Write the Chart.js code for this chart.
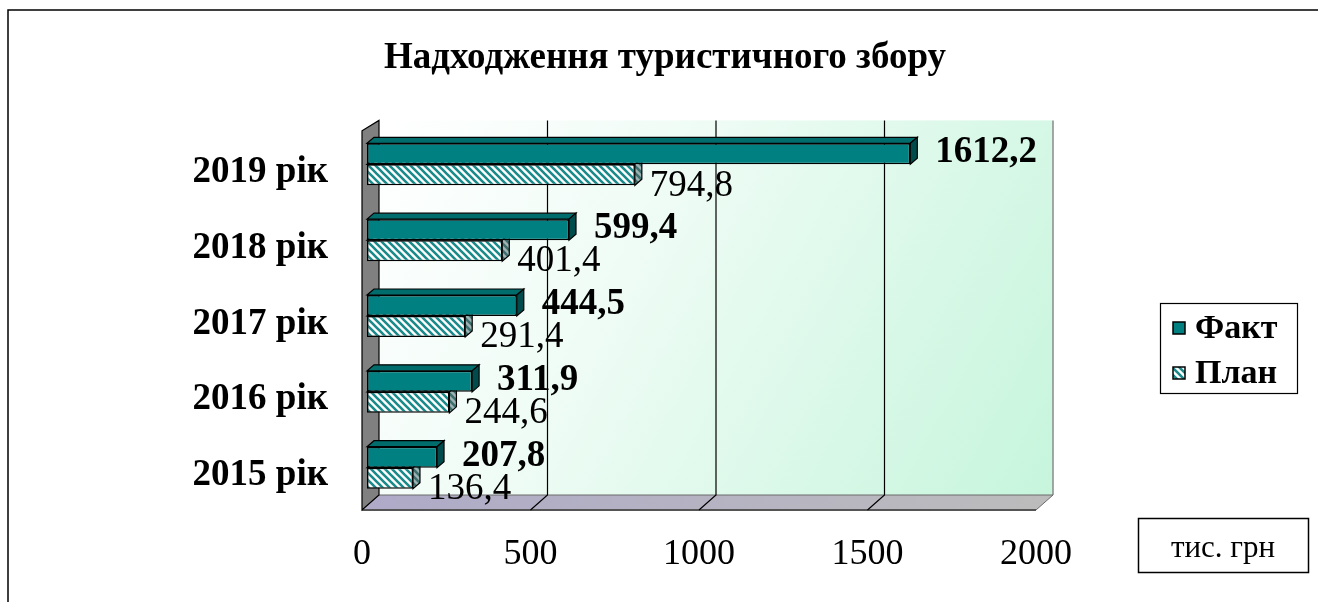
<!DOCTYPE html>
<html>
  <head>
    <title>Надходження туристичного збору</title>
    <style>
      body {
        background-color: white;
        margin: 0;
        padding: 0;
      }
      .chart-box {
        width: 1318px;
        height: 602px;
      }
    </style>
    <script src="https://cdn.jsdelivr.net/npm/chart.js"></script>
  </head>
  <body>
    <div class="chart-box">
      <canvas id="taxChart" width="1318" height="602"></canvas>
    </div>
    <script>
      // data (тис. грн)
      const years = ["2015 рік", "2016 рік", "2017 рік", "2018 рік", "2019 рік"];
      const factValues = [207.8, 311.9, 444.5, 599.4, 1612.2];
      const planValues = [136.4, 244.6, 291.4, 401.4, 794.8];
      const seriesNames = ["Факт", "План"];
      const xMin = 0;
      const xMax = 2000;
      const xStep = 500;

      const serif = "'Liberation Serif', 'Times New Roman', serif";
      const teal = "#008080";

      // diagonal hatch for the plan bars
      function makeHatch(bg, fg) {
        const c = document.createElement("canvas");
        c.width = 7;
        c.height = 7;
        const g = c.getContext("2d");
        g.fillStyle = bg;
        g.fillRect(0, 0, 7, 7);
        g.strokeStyle = fg;
        g.lineWidth = 2.6;
        g.beginPath();
        for (let k = -1; k <= 1; k++) {
          g.moveTo(k * 7 - 1, -1);
          g.lineTo(k * 7 + 8, 8);
        }
        g.stroke();
        return g.createPattern(c, "repeat");
      }
      const planHatch = makeHatch("#ffffff", "#1a8a8a");
      const planSideHatch = makeHatch("#9fb3b3", "#3d6f6f");

      const fmt = v => v.toFixed(1).replace(".", ",");

      // offsets of the 3D planes relative to the bar plane
      const BACK = { dx: 12, top: -6, bottom: -10.6 };
      const FRONT = { dx: -5, top: 4.4, bottom: 4.4 };
      const BAR = { dx: 7, dy: 6 };

      const box3d = {
        id: "box3d",
        beforeDraw(chart) {
          const ctx = chart.ctx;
          const a = chart.chartArea;
          const xs = chart.scales.x;
          ctx.save();

          // outer frame
          ctx.strokeStyle = "#000";
          ctx.lineWidth = 1.5;
          ctx.beginPath();
          ctx.moveTo(8, 602);
          ctx.lineTo(8, 10);
          ctx.lineTo(1318, 10);
          ctx.stroke();

          const bl = a.left + BACK.dx, br = a.right + BACK.dx;
          const bt = a.top + BACK.top, bb = a.bottom + BACK.bottom;
          const fl = a.left + FRONT.dx, fr = a.right + FRONT.dx;
          const ft = a.top + FRONT.top, fb = a.bottom + FRONT.bottom;

          // back wall
          const grad = ctx.createLinearGradient(bl, bt, br, bb);
          grad.addColorStop(0, "#ffffff");
          grad.addColorStop(0.35, "#f0fcf6");
          grad.addColorStop(1, "#c6f5dc");
          ctx.fillStyle = grad;
          ctx.fillRect(bl, bt, br - bl, bb - bt);
          ctx.strokeStyle = "#8a8a8a";
          ctx.lineWidth = 1.5;
          ctx.beginPath();
          ctx.moveTo(br, bt);
          ctx.lineTo(br, bb);
          ctx.stroke();

          // floor
          const fgrad = ctx.createLinearGradient(fl, 0, br, 0);
          fgrad.addColorStop(0, "#aeaac8");
          fgrad.addColorStop(1, "#bcbcbc");
          ctx.fillStyle = fgrad;
          ctx.beginPath();
          ctx.moveTo(fl, fb);
          ctx.lineTo(fr, fb);
          ctx.lineTo(br, bb);
          ctx.lineTo(bl, bb);
          ctx.closePath();
          ctx.fill();
          ctx.strokeStyle = "#6a6a6a";
          ctx.lineWidth = 1;
          ctx.stroke();
          ctx.strokeStyle = "#555";
          ctx.lineWidth = 2;
          ctx.beginPath();
          ctx.moveTo(fl, fb);
          ctx.lineTo(fr, fb);
          ctx.stroke();

          // grid lines on wall and floor
          ctx.strokeStyle = "#000";
          ctx.lineWidth = 1.2;
          for (let v = xMin + xStep; v < xMax; v += xStep) {
            const px = xs.getPixelForValue(v);
            ctx.beginPath();
            ctx.moveTo(px + BACK.dx, bt);
            ctx.lineTo(px + BACK.dx, bb);
            ctx.lineTo(px + FRONT.dx, fb);
            ctx.stroke();
          }

          // left wall
          ctx.fillStyle = "#808080";
          ctx.strokeStyle = "#000";
          ctx.lineWidth = 1.2;
          ctx.beginPath();
          ctx.moveTo(fl, fb);
          ctx.lineTo(fl, ft);
          ctx.lineTo(bl, bt);
          ctx.lineTo(bl, bb);
          ctx.closePath();
          ctx.fill();
          ctx.stroke();

          ctx.restore();
        },
        beforeDatasetsDraw(chart) {
          const ctx = chart.ctx;
          ctx.save();
          ctx.strokeStyle = "#000";
          ctx.lineWidth = 1.2;
          [1, 0].forEach(di => {
            const meta = chart.getDatasetMeta(di);
            meta.data.forEach(bar => {
              const p = bar.getProps(["x", "y", "base", "height"], true);
              const top = p.y - p.height / 2;
              const bottom = p.y + p.height / 2;
              // top face
              ctx.fillStyle = di === 0 ? "#006c6c" : planHatch;
              ctx.beginPath();
              ctx.moveTo(p.base, top);
              ctx.lineTo(p.base + BAR.dx, top - BAR.dy);
              ctx.lineTo(p.x + BAR.dx, top - BAR.dy);
              ctx.lineTo(p.x, top);
              ctx.closePath();
              ctx.fill();
              ctx.stroke();
              // end face
              ctx.fillStyle = di === 0 ? "#004c4c" : planSideHatch;
              ctx.beginPath();
              ctx.moveTo(p.x, top);
              ctx.lineTo(p.x + BAR.dx, top - BAR.dy);
              ctx.lineTo(p.x + BAR.dx, bottom - BAR.dy);
              ctx.lineTo(p.x, bottom);
              ctx.closePath();
              ctx.fill();
              ctx.stroke();
            });
          });
          ctx.restore();
        },
        afterDatasetsDraw(chart) {
          const ctx = chart.ctx;
          ctx.save();
          ctx.fillStyle = "#000";
          ctx.textBaseline = "middle";
          ctx.textAlign = "left";
          chart.getDatasetMeta(1).data.forEach((bar, i) => {
            ctx.font = "37px " + serif;
            ctx.fillText(fmt(planValues[i]), bar.x + 15, bar.y + 11);
          });
          chart.getDatasetMeta(0).data.forEach((bar, i) => {
            ctx.font = "bold 37px " + serif;
            ctx.fillText(fmt(factValues[i]), bar.x + 25, bar.y - 1);
          });
          ctx.restore();
        },
        afterDraw(chart) {
          const ctx = chart.ctx;
          ctx.save();
          // legend
          ctx.fillStyle = "#fff";
          ctx.strokeStyle = "#000";
          ctx.lineWidth = 1.2;
          ctx.fillRect(1160, 303, 137, 90);
          ctx.strokeRect(1160.5, 303.5, 137, 90);
          const fills = [teal, planHatch];
          seriesNames.forEach((name, i) => {
            const cy = 328 + i * 45;
            ctx.fillStyle = fills[i];
            ctx.fillRect(1173, cy - 6, 12, 12);
            ctx.lineWidth = 1.5;
            ctx.strokeRect(1173, cy - 6, 12, 12);
            ctx.fillStyle = "#000";
            ctx.font = "bold 34px " + serif;
            ctx.textBaseline = "middle";
            ctx.textAlign = "left";
            ctx.fillText(name, 1195, cy + 1);
          });
          // units box
          ctx.lineWidth = 1.5;
          ctx.strokeRect(1138.5, 518.5, 170, 54);
          ctx.font = "31px " + serif;
          ctx.textAlign = "center";
          ctx.textBaseline = "middle";
          ctx.fillText("тис. грн", 1223, 549);
          ctx.restore();
        }
      };

      new Chart(document.getElementById("taxChart"), {
        type: "bar",
        data: {
          labels: years,
          datasets: [
            {
              label: seriesNames[0],
              data: factValues,
              backgroundColor: teal,
              borderColor: "#000",
              borderWidth: 1.5,
              borderSkipped: false
            },
            {
              label: seriesNames[1],
              data: planValues,
              backgroundColor: planHatch,
              borderColor: "#000",
              borderWidth: 1.5,
              borderSkipped: false
            }
          ]
        },
        options: {
          indexAxis: "y",
          responsive: false,
          animation: false,
          categoryPercentage: 0.554,
          barPercentage: 1,
          layout: { padding: { left: 12, right: 0, top: 0, bottom: 0 } },
          plugins: {
            legend: { display: false },
            tooltip: { enabled: false },
            title: {
              display: true,
              text: "Надходження туристичного збору",
              color: "#000",
              font: { family: serif, size: 37, weight: "bold" },
              padding: { top: 36, bottom: 46 }
            }
          },
          scales: {
            x: {
              min: xMin,
              max: xMax,
              grid: { display: false },
              border: { display: false },
              ticks: {
                stepSize: xStep,
                color: "#000",
                font: { family: serif, size: 36 },
                padding: 19,
                labelOffset: -5,
                callback: v => String(v)
              },
              afterFit: s => { s.height = 96.4; }
            },
            y: {
              reverse: true,
              grid: { display: false },
              border: { display: false },
              ticks: {
                color: "#000",
                font: { family: serif, size: 37, weight: "bold" },
                padding: 31,
                labelOffset: 8
              },
              afterFit: s => { s.width = 355; }
            },
            side: {
              type: "linear",
              position: "right",
              display: true,
              grid: { display: false },
              border: { display: false },
              ticks: { display: false },
              afterFit: s => { s.width = 277; }
            }
          }
        },
        plugins: [box3d]
      });
    </script>
  </body>
</html>
